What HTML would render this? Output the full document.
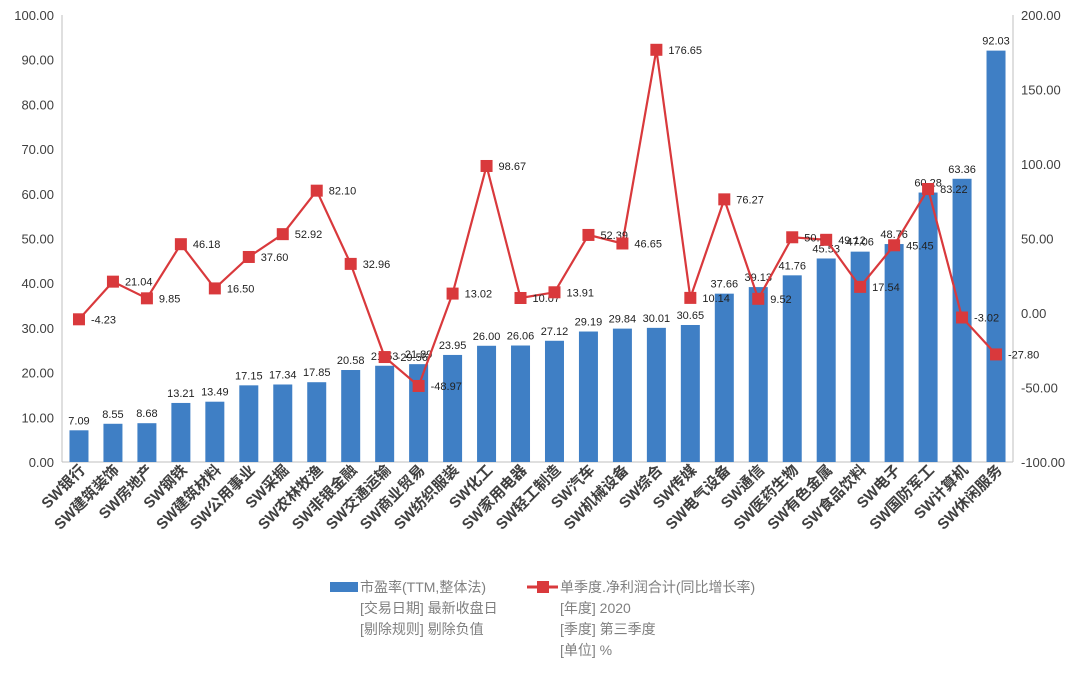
<!DOCTYPE html>
<html><head><meta charset="utf-8"><style>
body{margin:0;background:#fff;}
svg text{font-family:"Liberation Sans","Noto Sans CJK SC",sans-serif;}
</style></head><body>
<svg id="c" width="1080" height="673" xmlns="http://www.w3.org/2000/svg"></svg>
<script>
const categories=["SW银行","SW建筑装饰","SW房地产","SW钢铁","SW建筑材料","SW公用事业","SW采掘","SW农林牧渔","SW非银金融","SW交通运输","SW商业贸易","SW纺织服装","SW化工","SW家用电器","SW轻工制造","SW汽车","SW机械设备","SW综合","SW传媒","SW电气设备","SW通信","SW医药生物","SW有色金属","SW食品饮料","SW电子","SW国防军工","SW计算机","SW休闲服务"];
const peValues=[7.09,8.55,8.68,13.21,13.49,17.15,17.34,17.85,20.58,21.53,21.89,23.95,26.00,26.06,27.12,29.19,29.84,30.01,30.65,37.66,39.13,41.76,45.53,47.06,48.76,60.28,63.36,92.03];
const growthValues=[-4.23,21.04,9.85,46.18,16.50,37.60,52.92,82.10,32.96,-29.56,-48.97,13.02,98.67,10.07,13.91,52.39,46.65,176.65,10.14,76.27,9.52,50.82,49.12,17.54,45.45,83.22,-3.02,-27.80];
const leftTicks=[0,10,20,30,40,50,60,70,80,90,100];
const rightTicks=[-100,-50,0,50,100,150,200];
const NS="http://www.w3.org/2000/svg";
const svg=document.getElementById('c');
const X0=62,X1=1013,Y0=462,Y1=15;
const step=(X1-X0)/categories.length;
const xc=i=>X0+step*(i+0.5);
const yL=v=>Y0-(v/100)*(Y0-Y1);
const yR=v=>Y0-((v+100)/300)*(Y0-Y1);
function el(t,a,txt){const e=document.createElementNS(NS,t);for(const k in a)e.setAttribute(k,a[k]);if(txt!==undefined)e.textContent=txt;svg.appendChild(e);return e;}
let e;
e=el('line',{x1:X0,y1:Y0,x2:X1,y2:Y0,stroke:'#bfbfbf'});

e=el('line',{x1:X0,y1:Y0,x2:X0,y2:Y1,stroke:'#bfbfbf'});

e=el('line',{x1:X1,y1:Y0,x2:X1,y2:Y1,stroke:'#bfbfbf'});

leftTicks.forEach(v=>{
 e=el('text',{x:X0-8,y:yL(v)+5,'text-anchor':'end','font-size':13,fill:'#404040'},v.toFixed(2));
 
});
rightTicks.forEach(v=>{
 e=el('text',{x:X1+8,y:yR(v)+5,'text-anchor':'start','font-size':13,fill:'#404040'},v.toFixed(2));
 
});
categories.forEach((c,i)=>{
 const x=xc(i),v=peValues[i];
 e=el('rect',{x:x-9.5,y:yL(v),width:19,height:Y0-yL(v),fill:'#3f7fc5'});
 
 e=el('text',{x:x,y:yL(v)-6,'text-anchor':'middle','font-size':11,fill:'#222'},v.toFixed(2));
 
 e=el('text',{x:x+7,y:471,'text-anchor':'end','font-size':15,fill:'#404040','font-weight':'bold',transform:`rotate(-45 ${x+7} 471)`},c);
 
});
const pts=growthValues.map((v,i)=>xc(i)+','+yR(v)).join(' ');
e=el('polyline',{points:pts,fill:'none',stroke:'#d9393c','stroke-width':2.2});

growthValues.forEach((v,i)=>{
 const x=xc(i),y=yR(v);
 e=el('rect',{x:x-6,y:y-6,width:12,height:12,fill:'#d9393c'});
 
 e=el('text',{x:x+12,y:y+4,'text-anchor':'start','font-size':11,fill:'#222'},v.toFixed(2));
 
});
e=el('rect',{x:330,y:582,width:28,height:10,fill:'#3f7fc5'});

const lg=[[360,592,'市盈率(TTM,整体法)'],[360,613,'[交易日期] 最新收盘日'],[360,634,'[剔除规则] 剔除负值'],[560,592,'单季度.净利润合计(同比增长率)'],[560,613,'[年度] 2020'],[560,634,'[季度] 第三季度'],[560,655,'[单位] %']];
lg.forEach(l=>{e=el('text',{x:l[0],y:l[1],'font-size':14,fill:'#7f7f7f'},l[2]);
 });
e=el('line',{x1:527,y1:587,x2:558,y2:587,stroke:'#d9393c','stroke-width':3});

e=el('rect',{x:537,y:581,width:12,height:12,fill:'#d9393c'});

</script>
</body></html>
